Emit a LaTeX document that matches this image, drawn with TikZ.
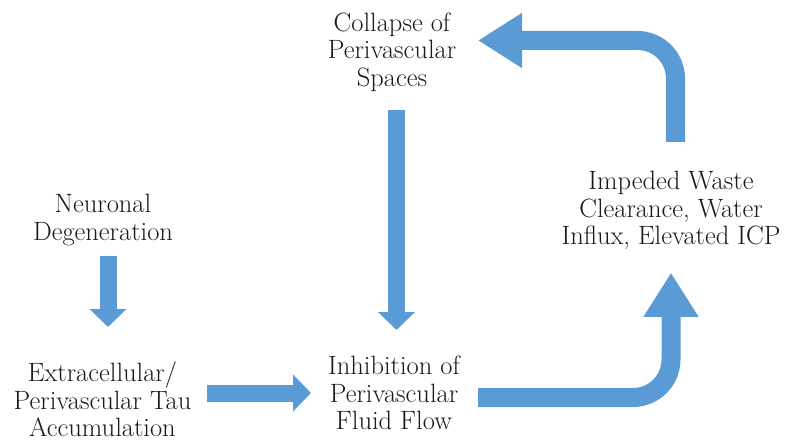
\documentclass[tikz,border=0pt]{standalone}
\usepackage{fontspec}
\usetikzlibrary{arrows.meta}
\definecolor{flowblue}{RGB}{91,155,213}
\begin{document}
\begin{tikzpicture}[
  x=1pt, y=-1pt,
  every node/.style={align=center,inner sep=0pt,text=black!90,font=\fontsize{26.5}{27.5}\selectfont},
  flow/.style={draw=flowblue,line width=17pt,-{Triangle[width=36pt,length=18pt]}},
  bendflow/.style={draw=flowblue,line width=19pt,rounded corners=38pt,-{Triangle[width=52pt,length=44pt]}}
]
  \useasboundingbox (0,0) rectangle (786,441);

  \node (coll)  at (392,52)    {Collapse of\\Perivascular\\Spaces};
  \node (neuro) at (103,219.8) {Neuronal\\Degeneration};
  \node (tau)   at (102.5,399.5) {Extracellular/\\Perivascular Tau\\Accumulation};
  \node (inhib) at (394,393)   {Inhibition of\\Perivascular\\Fluid Flow};
  \node (imped) at (671,210.8) {Impeded Waste\\Clearance, Water\\Influx, Elevated ICP};

  \draw[flow] ([xshift=5pt,yshift=-36pt]neuro.center) -- ([xshift=5.5pt,yshift=72.5pt]tau.center);
  \draw[flow] ([xshift=104.5pt,yshift=6.5pt]tau.center) -- ([xshift=-83pt]inhib.center);
  \draw[flow] ([xshift=4.5pt,yshift=-58pt]coll.center) -- ([xshift=2.5pt,yshift=63pt]inhib.center);
  \draw[bendflow] ([xshift=84pt,yshift=-4.5pt]inhib.center) -| ([yshift=-62pt]imped.center);
  \draw[bendflow] ([xshift=4.5pt,yshift=69pt]imped.center) |- ([xshift=86pt,yshift=11.5pt]coll.center);
\end{tikzpicture}
\end{document}
